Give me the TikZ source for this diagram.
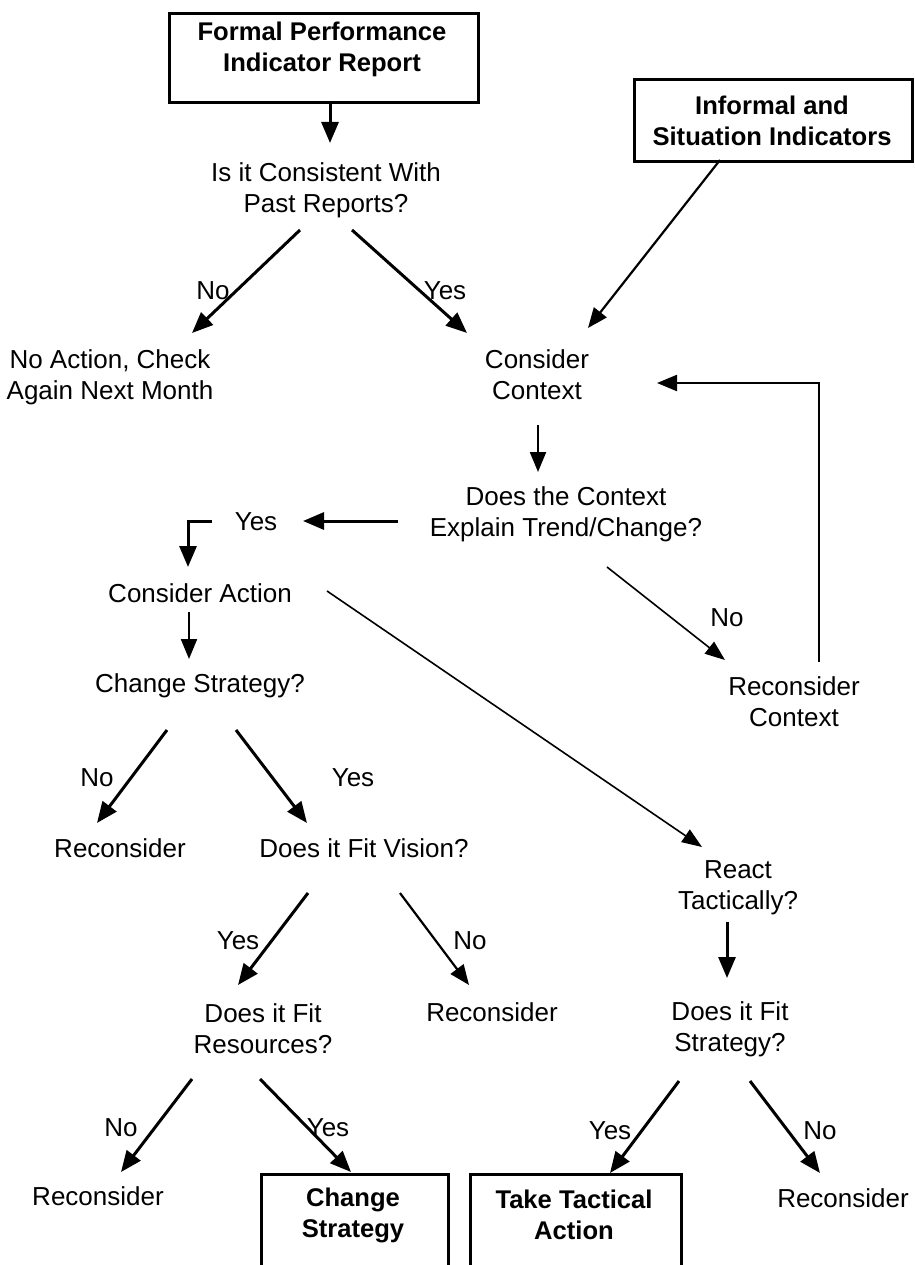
\documentclass[tikz,border=0pt]{standalone}
\usepackage{fontspec}
\setmainfont{Liberation Sans}
\usetikzlibrary{arrows.meta}
\begin{document}
\begin{tikzpicture}[x=1pt,y=-1pt,
  txt/.style={inner sep=0pt,align=center,font=\fontsize{26}{31}\selectfont},
  btxt/.style={inner sep=0pt,align=center,font=\fontsize{25.6}{31}\selectfont\bfseries},
  lbl/.style={inner sep=0pt,font=\fontsize{26}{31}\selectfont},
  frame/.style={draw,line width=3pt,inner sep=0pt,anchor=north west},
  thick arrow/.style={line width=3pt,-{Triangle[length=21pt,width=17pt]}},
  thin arrow/.style={line width=1.6pt,-{Triangle[length=20pt,width=15pt]}},
  mid arrow/.style={line width=2.2pt,-{Triangle[length=20pt,width=16pt]}}]
\useasboundingbox (0,0) rectangle (914,1265);
\clip (0,0) rectangle (914,1265);
\fill[white] (0,0) rectangle (914,1265);

% boxed start points
\node[frame,minimum width=309pt,minimum height=89pt] (fprbox) at (168,12) {};
\node[btxt] (fpr) at (322,49) {Formal Performance\\Indicator Report};
\node[frame,minimum width=278pt,minimum height=82pt] (infbox) at (633,78) {};
\node[btxt] (inf) at (772,121) {Informal and\\Situation Indicators};

% decisions and outcomes
\node[txt] (q1) at (326,190) {Is it Consistent With\\Past Reports?};
\node[txt] (noact) at (110,377) {No Action, Check\\Again Next Month};
\node[txt] (ctx) at (537,375) {Consider\\Context};
\node[txt] (q2) at (566,514) {Does the Context\\Explain Trend/Change?};
\node[lbl] (yes1) at (256,522) {Yes};
\node[txt] (act) at (200,593) {Consider Action};
\node[txt] (recctx) at (794,702) {Reconsider\\Context};
\node[txt] (cs) at (200,686) {Change Strategy?};
\node[txt] (rec1) at (120,848) {Reconsider};
\node[txt] (vis) at (364,848) {Does it Fit Vision?};
\node[txt] (react) at (738,888) {React\\Tactically?};
\node[txt] (res) at (263,1029) {Does it Fit\\Resources?};
\node[txt] (rec2) at (492,1012) {Reconsider};
\node[txt] (fs) at (730,1029) {Does it Fit\\Strategy?};
\node[txt] (rec3) at (98,1196) {Reconsider};
\node[txt] (rec4) at (843,1198) {Reconsider};

% boxed end points (run off the bottom edge)
\node[frame,minimum width=187pt,minimum height=110pt] (csbox) at (260,1173) {};
\node[btxt] (chs) at (353,1215) {Change\\Strategy};
\node[frame,minimum width=211pt,minimum height=110pt] (tabox) at (469,1173) {};
\node[btxt] (tta) at (574,1215) {Take Tactical\\Action};

% connector end points
\coordinate (a0) at (330,101);  \coordinate (a1) at (330,143);
\coordinate (b0) at (300,230);  \coordinate (b1) at (192,333);
\coordinate (c0) at (352,230);  \coordinate (c1) at (467,333);
\coordinate (d0) at (720,160);  \coordinate (d1) at (588,328);
\coordinate (e0) at (538,425);  \coordinate (e1) at (538,472);
\coordinate (f0) at (398,521);  \coordinate (f1) at (303,521);
\coordinate (g0) at (212,521);  \coordinate (g1) at (188,521);  \coordinate (g2) at (188,567);
\coordinate (h0) at (607,567);  \coordinate (h1) at (725,660);
\coordinate (i0) at (819,662);  \coordinate (i1) at (819,383);  \coordinate (i2) at (657,383);
\coordinate (j0) at (327,591);  \coordinate (j1) at (702,847);
\coordinate (k0) at (189,612);  \coordinate (k1) at (189,659);
\coordinate (l0) at (167,730);  \coordinate (l1) at (97,823);
\coordinate (m0) at (236,730);  \coordinate (m1) at (307,823);
\coordinate (n0) at (308,893);  \coordinate (n1) at (238,985);
\coordinate (o0) at (400,893);  \coordinate (o1) at (469,985);
\coordinate (p0) at (727,922);  \coordinate (p1) at (727,978);
\coordinate (r0) at (192,1079); \coordinate (r1) at (121,1172);
\coordinate (s0) at (260,1079); \coordinate (s1) at (351,1172);
\coordinate (t0) at (679,1081); \coordinate (t1) at (610,1173);
\coordinate (u0) at (750,1081); \coordinate (u1) at (820,1173);

% connectors
\draw[thick arrow] (a0) -- (a1);
\draw[thick arrow] (b0) -- (b1);
\draw[thick arrow] (c0) -- (c1);
\draw[mid arrow] (d0) -- (d1);
\draw[mid arrow] (e0) -- (e1);
\draw[thick arrow] (f0) -- (f1);
\draw[thick arrow] (g0) -- (g1) -- (g2);
\draw[thin arrow] (h0) -- (h1);
\draw[mid arrow] (i0) -- (i1) -- (i2);
\draw[thin arrow] (j0) -- (j1);
\draw[mid arrow] (k0) -- (k1);
\draw[thick arrow] (l0) -- (l1);
\draw[thick arrow] (m0) -- (m1);
\draw[thick arrow] (n0) -- (n1);
\draw[mid arrow] (o0) -- (o1);
\draw[thick arrow] (p0) -- (p1);
\draw[thick arrow] (r0) -- (r1);
\draw[thick arrow] (s0) -- (s1);
\draw[thick arrow] (t0) -- (t1);
\draw[thick arrow] (u0) -- (u1);

% branch labels
\node[lbl] (lb1) at (213,291) {No};
\node[lbl] (lb2) at (445,291) {Yes};
\node[lbl] (lb3) at (727,618) {No};
\node[lbl] (lb4) at (97,778) {No};
\node[lbl] (lb5) at (353,778) {Yes};
\node[lbl] (lb6) at (238,941) {Yes};
\node[lbl] (lb7) at (470,941) {No};
\node[lbl] (lb8) at (121,1128) {No};
\node[lbl] (lb9) at (328,1128) {Yes};
\node[lbl] (lb10) at (610,1131) {Yes};
\node[lbl] (lb11) at (820,1131) {No};
\end{tikzpicture}
\end{document}
